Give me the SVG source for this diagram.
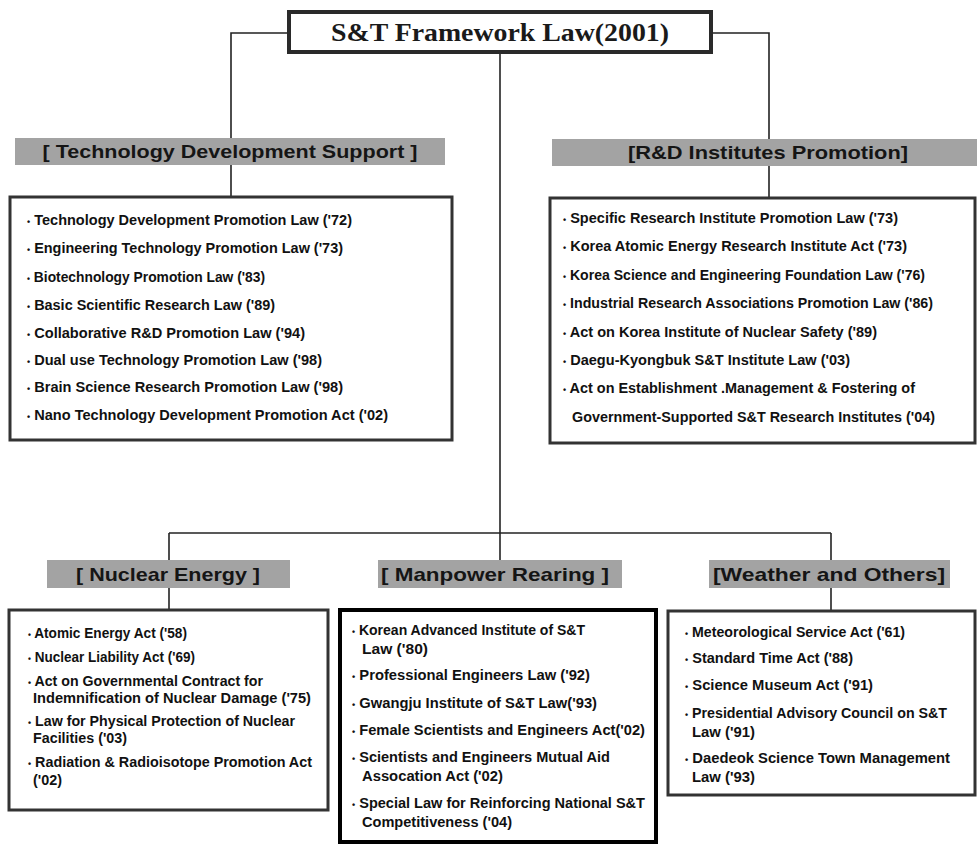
<svg xmlns="http://www.w3.org/2000/svg" width="977" height="844" viewBox="0 0 977 844">
<style>
.bg{fill:#ffffff}
.conn{stroke:#222;stroke-width:1.6;fill:none}
.box{fill:#ffffff;stroke:#333;stroke-width:3}
.boxb{fill:#ffffff;stroke:#000;stroke-width:4}
.title{fill:#ffffff;stroke:#2a2a2a;stroke-width:4}
.hdr{fill:#a3a3a3}
.ht{font-family:"Liberation Sans",Arial,sans-serif;font-weight:bold;font-size:19px;fill:#151515;text-anchor:middle}
.tt{font-family:"Liberation Serif","Times New Roman",serif;font-weight:bold;font-size:25px;fill:#1a1a1a;text-anchor:middle}
.it{font-family:"Liberation Sans",Arial,sans-serif;font-weight:bold;font-size:14.5px;fill:#111}
.bu{font-size:9px}
</style>
<rect class="bg" x="0" y="0" width="977" height="844"/>
<g id="connectors">
<path class="conn" d="M289 33 H231 V197"/>
<path class="conn" d="M711 33 H769 V198"/>
<path class="conn" d="M500 52 V560"/>
<path class="conn" d="M169 533 H831"/>
<path class="conn" d="M169 533 V610"/>
<path class="conn" d="M831 533 V611"/>
</g>
<g id="title">
<rect class="title" x="289" y="12" width="422" height="40"/>
<text class="tt" x="500" y="41" textLength="338" lengthAdjust="spacingAndGlyphs">S&amp;T Framework Law(2001)</text>
</g>
<g id="hdr-tech">
<rect class="hdr" x="15" y="138" width="430" height="27"/>
<text class="ht" x="230" y="158" textLength="375" lengthAdjust="spacingAndGlyphs">[ Technology Development Support ]</text>
</g>
<g id="hdr-rd">
<rect class="hdr" x="552" y="139" width="425" height="27"/>
<text class="ht" x="768" y="159" textLength="280" lengthAdjust="spacingAndGlyphs">[R&amp;D Institutes Promotion]</text>
</g>
<g id="box-tech">
<rect class="box" x="10" y="197" width="442" height="243"/>
<text class="it" x="27" y="225" textLength="325" lengthAdjust="spacingAndGlyphs"><tspan class="bu">•</tspan> Technology Development Promotion Law ('72)</text>
<text class="it" x="27" y="253" textLength="316" lengthAdjust="spacingAndGlyphs"><tspan class="bu">•</tspan> Engineering Technology Promotion Law ('73)</text>
<text class="it" x="27" y="282" textLength="238" lengthAdjust="spacingAndGlyphs"><tspan class="bu">•</tspan> Biotechnology Promotion Law ('83)</text>
<text class="it" x="27" y="310" textLength="248" lengthAdjust="spacingAndGlyphs"><tspan class="bu">•</tspan> Basic Scientific Research Law ('89)</text>
<text class="it" x="27" y="338" textLength="278" lengthAdjust="spacingAndGlyphs"><tspan class="bu">•</tspan> Collaborative R&amp;D Promotion Law ('94)</text>
<text class="it" x="27" y="365" textLength="295" lengthAdjust="spacingAndGlyphs"><tspan class="bu">•</tspan> Dual use Technology Promotion Law ('98)</text>
<text class="it" x="27" y="392" textLength="316" lengthAdjust="spacingAndGlyphs"><tspan class="bu">•</tspan> Brain Science Research Promotion Law ('98)</text>
<text class="it" x="27" y="420" textLength="361" lengthAdjust="spacingAndGlyphs"><tspan class="bu">•</tspan> Nano Technology Development Promotion Act ('02)</text>
</g>
<g id="box-rd">
<rect class="box" x="550" y="198" width="425" height="245"/>
<text class="it" x="563" y="223" textLength="335" lengthAdjust="spacingAndGlyphs"><tspan class="bu">•</tspan> Specific  Research Institute Promotion Law ('73)</text>
<text class="it" x="563" y="251" textLength="344" lengthAdjust="spacingAndGlyphs"><tspan class="bu">•</tspan> Korea Atomic Energy Research Institute Act ('73)</text>
<text class="it" x="563" y="280" textLength="362" lengthAdjust="spacingAndGlyphs"><tspan class="bu">•</tspan> Korea Science and Engineering Foundation Law ('76)</text>
<text class="it" x="563" y="308" textLength="370" lengthAdjust="spacingAndGlyphs"><tspan class="bu">•</tspan> Industrial Research Associations Promotion Law ('86)</text>
<text class="it" x="563" y="337" textLength="314" lengthAdjust="spacingAndGlyphs"><tspan class="bu">•</tspan> Act on Korea Institute of Nuclear Safety ('89)</text>
<text class="it" x="563" y="365" textLength="287" lengthAdjust="spacingAndGlyphs"><tspan class="bu">•</tspan> Daegu-Kyongbuk S&amp;T Institute Law ('03)</text>
<text class="it" x="563" y="393" textLength="352" lengthAdjust="spacingAndGlyphs"><tspan class="bu">•</tspan> Act on Establishment .Management &amp; Fostering of</text>
<text class="it" x="572" y="422" textLength="363" lengthAdjust="spacingAndGlyphs">Government-Supported S&amp;T Research Institutes ('04)</text>
</g>
<g id="hdr-nuclear">
<rect class="hdr" x="47" y="560" width="243" height="28"/>
<text class="ht" x="168" y="581" textLength="184" lengthAdjust="spacingAndGlyphs">[ Nuclear Energy ]</text>
</g>
<g id="hdr-manpower">
<rect class="hdr" x="378" y="560" width="244" height="28"/>
<text class="ht" x="495" y="581" textLength="228" lengthAdjust="spacingAndGlyphs">[ Manpower Rearing ]</text>
</g>
<g id="hdr-weather">
<rect class="hdr" x="709" y="560" width="241" height="28"/>
<text class="ht" x="829" y="581" textLength="232" lengthAdjust="spacingAndGlyphs">[Weather and Others]</text>
</g>
<g id="box-nuclear">
<rect class="box" x="9" y="610" width="319" height="200"/>
<text class="it" x="28" y="638" textLength="159" lengthAdjust="spacingAndGlyphs"><tspan class="bu">•</tspan> Atomic Energy Act ('58)</text>
<text class="it" x="28" y="662" textLength="167" lengthAdjust="spacingAndGlyphs"><tspan class="bu">•</tspan> Nuclear Liability Act ('69)</text>
<text class="it" x="28" y="686" textLength="235" lengthAdjust="spacingAndGlyphs"><tspan class="bu">•</tspan> Act on Governmental Contract for</text>
<text class="it" x="33" y="703" textLength="278" lengthAdjust="spacingAndGlyphs">Indemnification of Nuclear Damage ('75)</text>
<text class="it" x="28" y="726" textLength="267" lengthAdjust="spacingAndGlyphs"><tspan class="bu">•</tspan> Law for Physical Protection of Nuclear</text>
<text class="it" x="33" y="743" textLength="94" lengthAdjust="spacingAndGlyphs">Facilities ('03)</text>
<text class="it" x="28" y="767" textLength="284" lengthAdjust="spacingAndGlyphs"><tspan class="bu">•</tspan> Radiation &amp; Radioisotope Promotion Act</text>
<text class="it" x="33" y="785" textLength="29" lengthAdjust="spacingAndGlyphs">('02)</text>
</g>
<g id="box-manpower">
<rect class="boxb" x="340" y="610" width="316" height="232"/>
<text class="it" x="352" y="635" textLength="233" lengthAdjust="spacingAndGlyphs"><tspan class="bu">•</tspan> Korean Advanced Institute of S&amp;T</text>
<text class="it" x="362" y="654" textLength="66" lengthAdjust="spacingAndGlyphs">Law ('80)</text>
<text class="it" x="352" y="680" textLength="238" lengthAdjust="spacingAndGlyphs"><tspan class="bu">•</tspan> Professional Engineers Law ('92)</text>
<text class="it" x="352" y="708" textLength="245" lengthAdjust="spacingAndGlyphs"><tspan class="bu">•</tspan> Gwangju Institute of S&amp;T Law('93)</text>
<text class="it" x="352" y="735" textLength="293" lengthAdjust="spacingAndGlyphs"><tspan class="bu">•</tspan> Female Scientists and Engineers Act('02)</text>
<text class="it" x="352" y="762" textLength="258" lengthAdjust="spacingAndGlyphs"><tspan class="bu">•</tspan> Scientists and Engineers Mutual Aid</text>
<text class="it" x="362" y="781" textLength="141" lengthAdjust="spacingAndGlyphs">Assocation Act ('02)</text>
<text class="it" x="352" y="808" textLength="293" lengthAdjust="spacingAndGlyphs"><tspan class="bu">•</tspan> Special Law for Reinforcing National S&amp;T</text>
<text class="it" x="362" y="827" textLength="150" lengthAdjust="spacingAndGlyphs">Competitiveness ('04)</text>
</g>
<g id="box-weather">
<rect class="box" x="668" y="611" width="307" height="184"/>
<text class="it" x="685" y="637" textLength="220" lengthAdjust="spacingAndGlyphs"><tspan class="bu">•</tspan> Meteorological Service Act ('61)</text>
<text class="it" x="685" y="663" textLength="168" lengthAdjust="spacingAndGlyphs"><tspan class="bu">•</tspan> Standard Time Act ('88)</text>
<text class="it" x="685" y="690" textLength="188" lengthAdjust="spacingAndGlyphs"><tspan class="bu">•</tspan> Science Museum Act ('91)</text>
<text class="it" x="685" y="718" textLength="262" lengthAdjust="spacingAndGlyphs"><tspan class="bu">•</tspan> Presidential Advisory Council on S&amp;T</text>
<text class="it" x="692" y="737" textLength="63" lengthAdjust="spacingAndGlyphs">Law ('91)</text>
<text class="it" x="685" y="763" textLength="265" lengthAdjust="spacingAndGlyphs"><tspan class="bu">•</tspan> Daedeok Science Town Management</text>
<text class="it" x="692" y="782" textLength="63" lengthAdjust="spacingAndGlyphs">Law ('93)</text>
</g>
</svg>
